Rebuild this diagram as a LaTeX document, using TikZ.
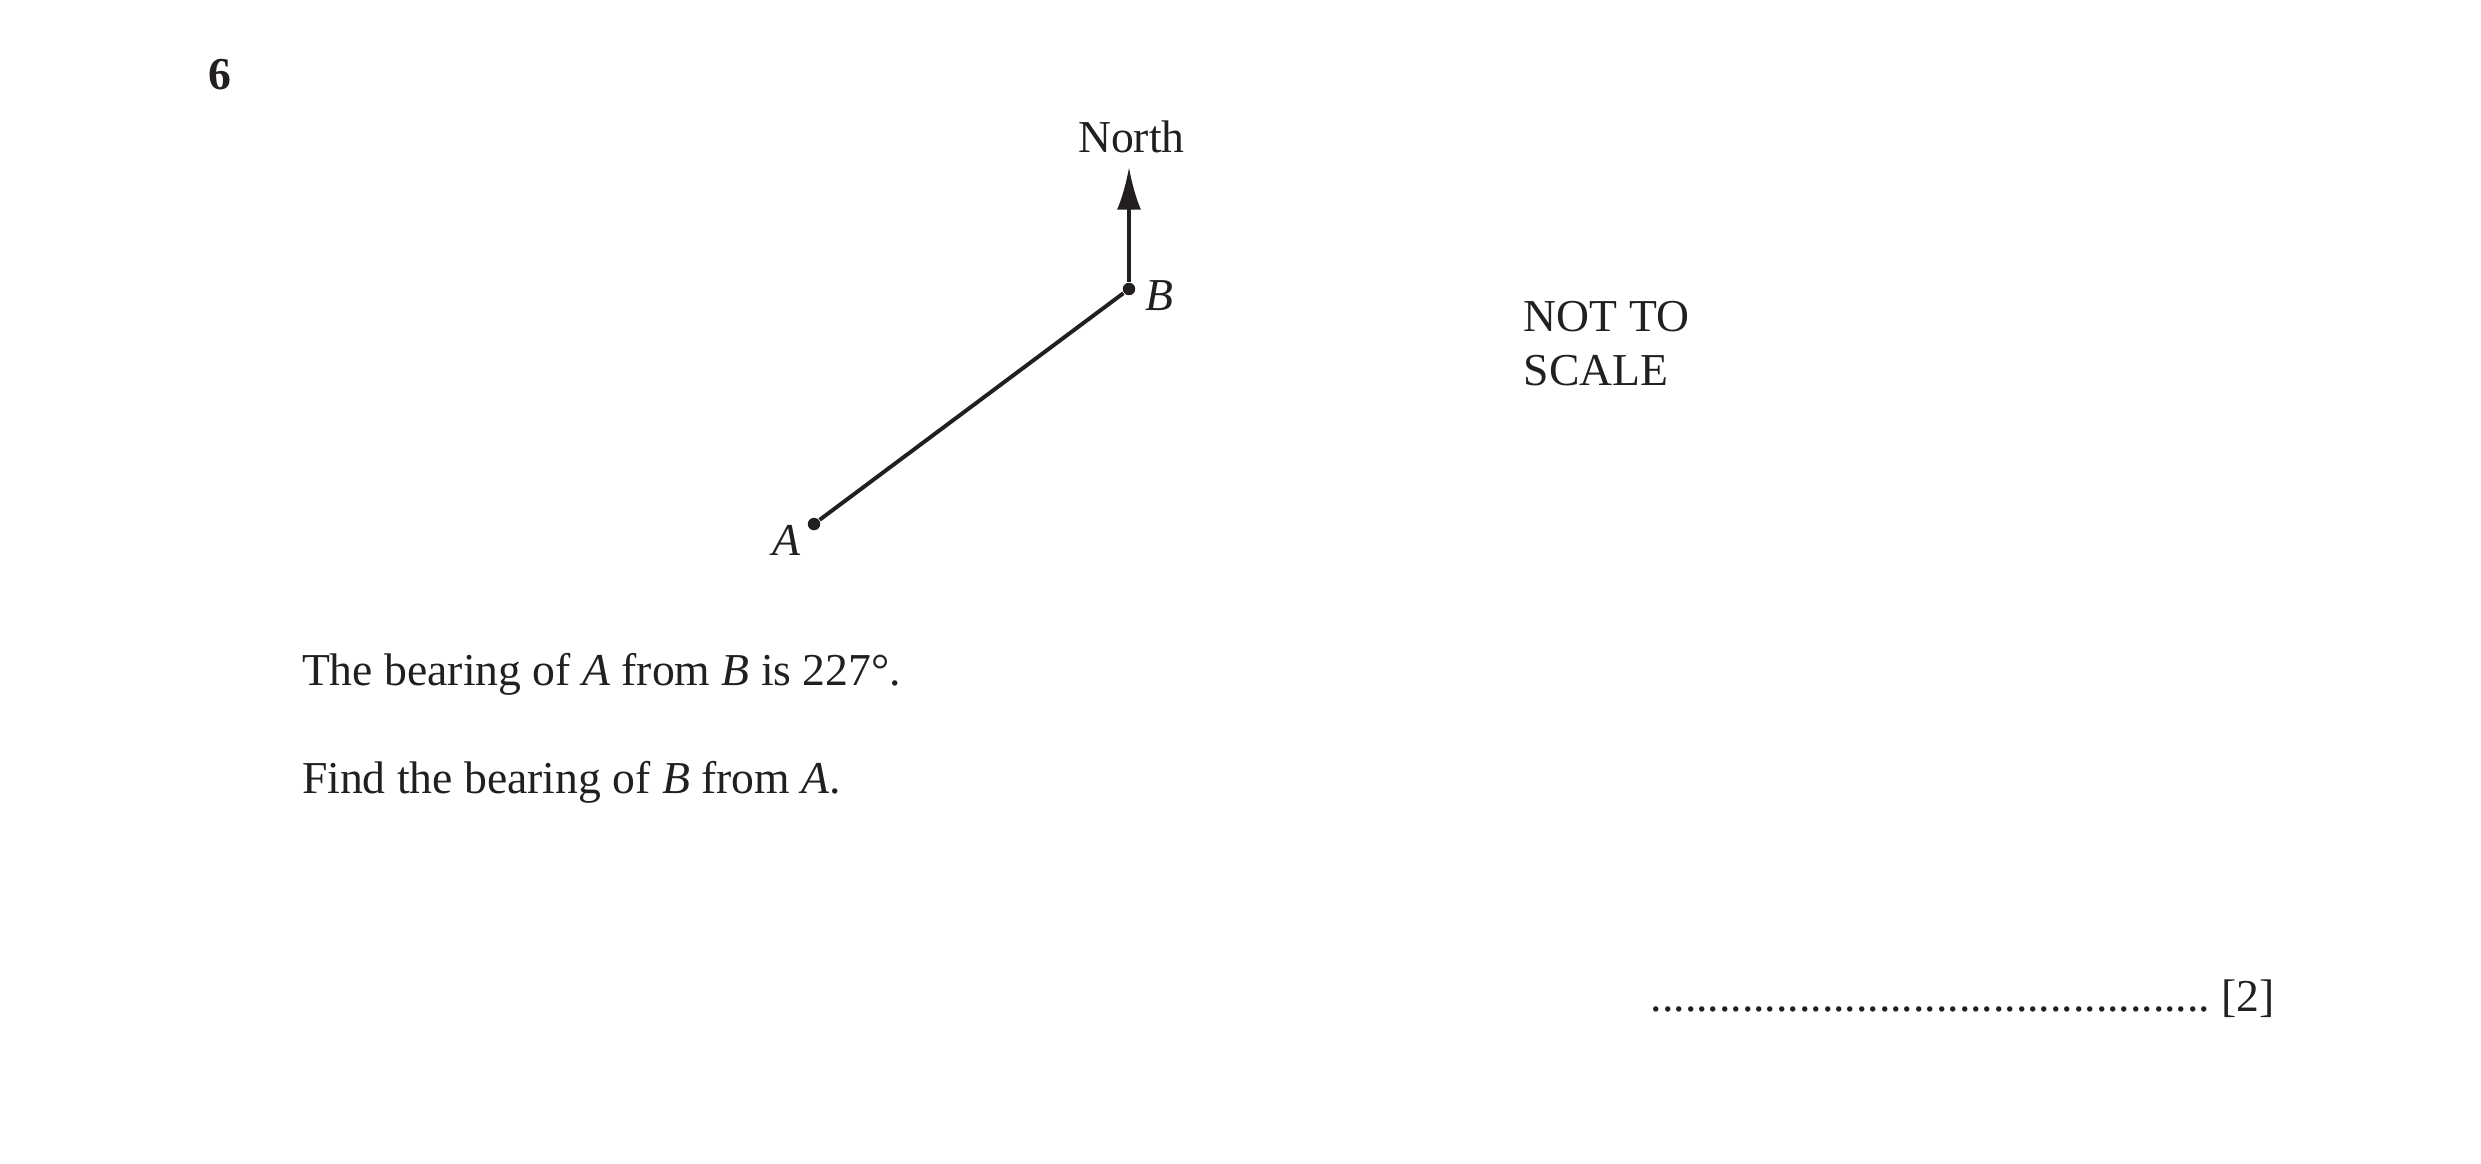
\documentclass[tikz,border=0pt]{standalone}
\usepackage{fontspec}
\setmainfont{Liberation Serif}
\usepackage{tikz}
\usetikzlibrary{positioning}
\usetikzlibrary{arrows.meta}

\definecolor{ink}{RGB}{35,31,32}

\begin{document}
\begin{tikzpicture}[
		txt/.style={inner sep=0pt, anchor=base west, text=ink, font=\fontsize{11}{13}\selectfont},
		lbl/.style={inner sep=0pt, text=ink, font=\fontsize{11}{13}\selectfont},
		pt/.style={circle, fill=ink, inner sep=0pt, minimum size=3pt},
		seg/.style={draw=ink, line width=0.95pt},
	]
				\useasboundingbox (0,0) rectangle (21.006,-9.855);
				
				\node[txt] (num) at (1.761,-0.754) {\textbf{6}};
				
				\node[pt] (A) at (6.892,-4.437) {};
				\node[pt] (B) at (9.559,-2.447) {};
				\coordinate (N) at (9.559,-1.414);
				
				\node [lbl, below left=-0.035cm and 0.065cm of A] (la) {\textit{A}};
				\node [lbl, right=0.07cm of B, yshift=-0.06cm] (lb) {\textit{B}};
				\node [lbl, above=0.11cm of N, xshift=0.02cm] (north) {North};
				
				\draw[seg]  (A) -- (B);
				\draw[seg, -{Latex[length=10.3pt,width=5.8pt]}]  (B) -- (N);
				
				\node[txt] (nts1) at (12.895,-2.811) {NOT TO};
				\node[txt] (nts2) at (12.895,-3.268) {SCALE};
				
				\node[txt] (q1) at (2.55,-5.800) {The bearing of \textit{A} from \textit{B} is 227°.};
				\node[txt] (q2) at (2.55,-6.720) {Find the bearing of \textit{B} from \textit{A}.};
				
				\node[txt] (ans) at (13.97,-8.565) {\leaders\hbox to 2.75pt{\hss.\hss}\hskip 134.75pt\relax\ [2]};
			\end{tikzpicture}
\end{document}
